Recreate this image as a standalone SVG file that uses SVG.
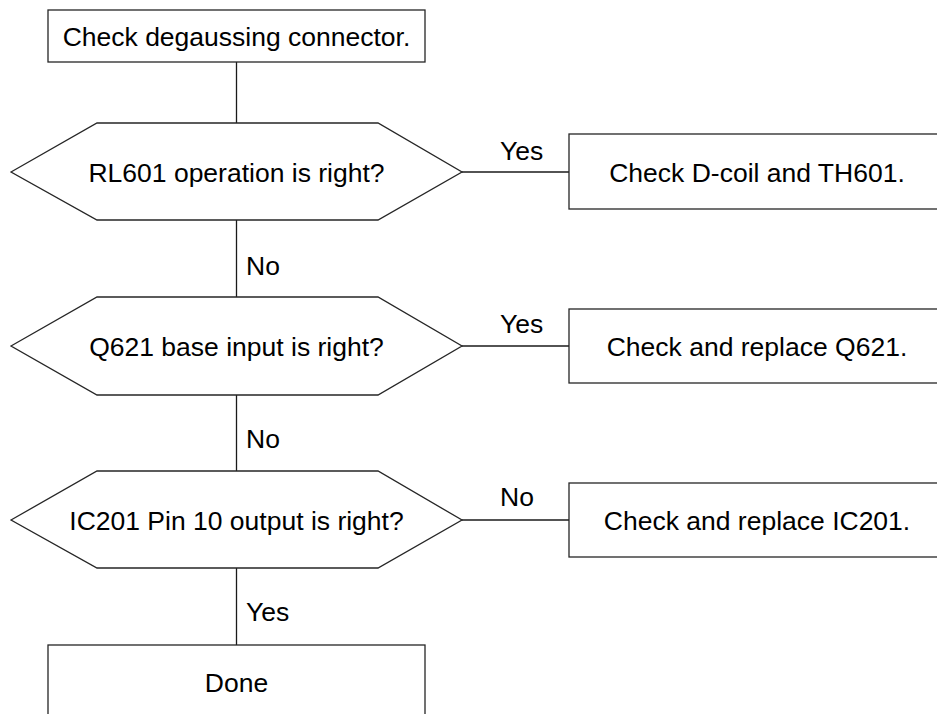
<svg xmlns="http://www.w3.org/2000/svg" width="937" height="714" viewBox="0 0 937 714">
<style>
  .shape { fill: #ffffff; stroke: #262626; stroke-width: 1.3; }
  .conn line { stroke: #1a1a1a; stroke-width: 1.3; fill: none; }
  text { font-family: "Liberation Sans", Arial, sans-serif; font-size: 26.5px; fill: #000000; }
  .c { text-anchor: middle; }
</style>
<rect width="937" height="714" fill="#ffffff"/>
<g id="connectors" class="conn">
  <line x1="236.5" y1="62" x2="236.5" y2="123"/>
  <line x1="236.5" y1="220" x2="236.5" y2="297"/>
  <line x1="236.5" y1="395" x2="236.5" y2="471"/>
  <line x1="236.5" y1="568" x2="236.5" y2="645"/>
  <line x1="462" y1="172" x2="569" y2="172"/>
  <line x1="462" y1="346" x2="569" y2="346"/>
  <line x1="462" y1="520" x2="569" y2="520"/>
  <text x="500" y="159.5">Yes</text>
  <text x="246" y="274.5">No</text>
  <text x="500" y="333">Yes</text>
  <text x="246" y="447.5">No</text>
  <text x="500" y="506">No</text>
  <text x="246" y="620.5">Yes</text>
</g>
<g id="start">
  <rect class="shape" x="48" y="10" width="377" height="52"/>
  <text class="c" x="236.5" y="46">Check degaussing connector.</text>
</g>
<g id="dec1">
  <polygon class="shape" points="11,172 97,123 378,123 462,172 378,220 97,220"/>
  <text class="c" x="236.5" y="181.5">RL601 operation is right?</text>
</g>
<g id="act1">
  <rect class="shape" x="569" y="134" width="376" height="75"/>
  <text class="c" x="757" y="182">Check D-coil and TH601.</text>
</g>
<g id="dec2">
  <polygon class="shape" points="11,346 97,297 378,297 462,346 378,395 97,395"/>
  <text class="c" x="236.5" y="355.5">Q621 base input is right?</text>
</g>
<g id="act2">
  <rect class="shape" x="569" y="309" width="376" height="74"/>
  <text class="c" x="757" y="356">Check and replace Q621.</text>
</g>
<g id="dec3">
  <polygon class="shape" points="11,520 97,471 378,471 462,520 378,568 97,568"/>
  <text class="c" x="236.5" y="529.5">IC201 Pin 10 output is right?</text>
</g>
<g id="act3">
  <rect class="shape" x="569" y="483" width="376" height="74"/>
  <text class="c" x="757" y="529.5">Check and replace IC201.</text>
</g>
<g id="done">
  <rect class="shape" x="48" y="645" width="377" height="80"/>
  <text class="c" x="236.5" y="692">Done</text>
</g>
</svg>
